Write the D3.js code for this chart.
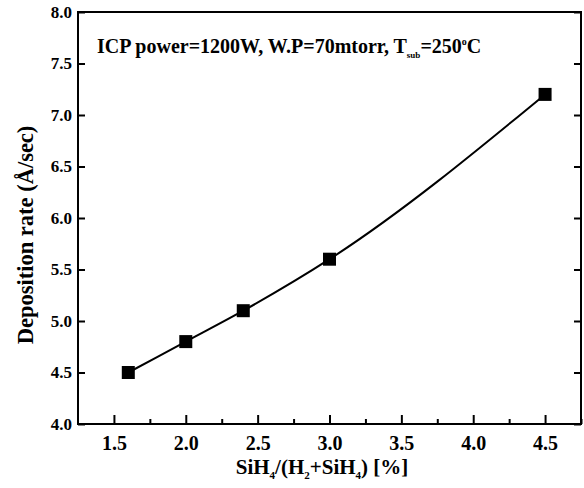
<!DOCTYPE html>
<html>
<head>
<meta charset="utf-8">
<script src="https://cdn.jsdelivr.net/npm/d3@7"></script>
<style>
  body { margin: 0; background: #fff; }
  svg text { font-family: "Liberation Serif", "Times New Roman", serif; font-weight: bold; fill: #000; }
</style>
</head>
<body>
<div id="chart"></div>
<script>
// SiH4 fraction [%] vs deposition rate [A/sec]
var silaneRatio = [1.6, 2.0, 2.4, 3.0, 4.5]
var depRate = [4.5, 4.8, 5.1, 5.6, 7.2]
var xTicks = [1.5, 2.0, 2.5, 3.0, 3.5, 4.0, 4.5]
var xMinor = [1.75, 2.25, 2.75, 3.25, 3.75, 4.25, 4.75]
var yTicks = [4.0, 4.5, 5.0, 5.5, 6.0, 6.5, 7.0, 7.5, 8.0]

var W = 584, H = 488
var m = {left: 78, right: 3, top: 12, bottom: 64}

var svg = d3.select('#chart').append('svg')
  .attr('width', W).attr('height', H)

var x = d3.scaleLinear().domain([1.25, 4.75]).range([m.left, W - m.right])
var y = d3.scaleLinear().domain([4, 8]).range([H - m.bottom, m.top])

// ticks point inward, labels only bottom/left
var fmt = d3.format('.1f')
var gx = svg.append('g').attr('transform', 'translate(0,' + y(4) + ')')
  .call(d3.axisBottom(x).tickValues(xTicks).tickFormat(fmt).tickSizeInner(-9).tickSizeOuter(0).tickPadding(12))
gx.selectAll('text').style('font-size', '20px')
svg.append('g').attr('transform', 'translate(0,' + y(4) + ')')
  .call(d3.axisBottom(x).tickValues(xMinor).tickFormat('').tickSizeInner(-5).tickSizeOuter(0))
var gy = svg.append('g').attr('transform', 'translate(' + x(1.25) + ',0)')
  .call(d3.axisLeft(y).tickValues(yTicks).tickFormat(fmt).tickSizeInner(-7).tickSizeOuter(0).tickPadding(6))
gy.selectAll('text').style('font-size', '17px')
svg.append('g').attr('transform', 'translate(' + x(4.75) + ',0)')
  .call(d3.axisRight(y).tickValues(yTicks).tickFormat('').tickSizeInner(-7).tickSizeOuter(0))

svg.selectAll('.domain').remove()
svg.selectAll('.tick line').attr('stroke', '#000').attr('stroke-width', 2)

// frame
svg.append('rect')
  .attr('x', x(1.25)).attr('y', y(8))
  .attr('width', x(4.75) - x(1.25)).attr('height', y(4) - y(8))
  .attr('fill', 'none').attr('stroke', '#000').attr('stroke-width', 2)

var pts = silaneRatio.map(function(d, i) { return [d, depRate[i]] })

svg.append('path').datum(pts)
  .attr('fill', 'none').attr('stroke', '#000').attr('stroke-width', 2)
  .attr('d', d3.line().x(function(d) { return x(d[0]) }).y(function(d) { return y(d[1]) }).curve(d3.curveMonotoneX))

var sq = 13
svg.selectAll('rect.pt').data(pts).enter().append('rect').attr('class', 'pt')
  .attr('x', function(d) { return x(d[0]) - sq / 2 })
  .attr('y', function(d) { return y(d[1]) - sq / 2 })
  .attr('width', sq).attr('height', sq).attr('fill', '#000')

// condition note
var note = svg.append('text').attr('x', 97).attr('y', 53).style('font-size', '20px')
note.append('tspan').text('ICP power=1200W, W.P=70mtorr, T')
note.append('tspan').attr('dy', 5).style('font-size', '9px').text('sub')
note.append('tspan').attr('dy', -5).text('=250')
note.append('tspan').attr('dy', -8).style('font-size', '10px').text('o')
note.append('tspan').attr('dy', 8).text('C')

// axis titles
var xl = svg.append('text').attr('text-anchor', 'middle')
  .attr('x', 322).attr('y', 474).style('font-size', '21px')
xl.append('tspan').text('SiH')
xl.append('tspan').attr('dy', 5).style('font-size', '11px').text('4')
xl.append('tspan').attr('dy', -5).text('/(H')
xl.append('tspan').attr('dy', 5).style('font-size', '11px').text('2')
xl.append('tspan').attr('dy', -5).text('+SiH')
xl.append('tspan').attr('dy', 5).style('font-size', '11px').text('4')
xl.append('tspan').attr('dy', -5).text(') [%]')

svg.append('text').attr('text-anchor', 'middle')
  .attr('transform', 'translate(33,' + 235 + ') rotate(-90)')
  .style('font-size', '22.5px')
  .text('Deposition rate (Å/sec)')
</script>
</body>
</html>
